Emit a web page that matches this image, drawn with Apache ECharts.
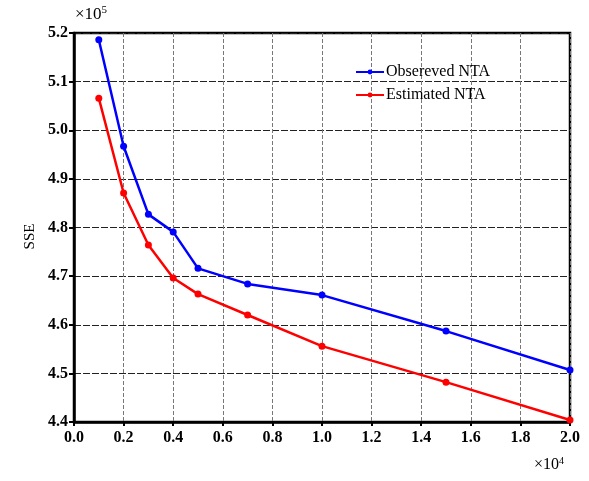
<!DOCTYPE html>
<html><head><meta charset="utf-8">
<script src="https://cdn.jsdelivr.net/npm/echarts@6/dist/echarts.min.js"></script>
<style>html,body{margin:0;padding:0;background:#fff}#c{width:589px;height:481px}</style>
</head><body><div id="c"></div>
<script>
const xValues = [0.1, 0.2, 0.3, 0.4, 0.5, 0.7, 1.0, 1.5, 2.0];
const observedNTA = [5.186, 4.967, 4.827, 4.791, 4.716, 4.684, 4.661, 4.587, 4.507];
const estimatedNTA = [5.066, 4.871, 4.764, 4.696, 4.663, 4.620, 4.556, 4.482, 4.404];
const seriesNames = ['Obsereved NTA', 'Estimated NTA'];

const font = '"Liberation Serif", "Times New Roman", serif';
const chart = echarts.init(document.getElementById('c'));
const pair = (ys) => xValues.map((x, i) => [x, ys[i]]);
chart.setOption({
  animation: false,
  backgroundColor: '#fff',
  grid: {left: 74, right: 19, top: 33, bottom: 59, show: true, borderColor: '#000', borderWidth: 2.5, backgroundColor: 'transparent'},
  legend: {
    left: 350, top: 59, orient: 'vertical', itemGap: 7, itemWidth: 28, itemHeight: 6,
    textStyle: {fontFamily: font, fontSize: 16, color: '#000', padding: [0, 0, 0, -3]},
    data: seriesNames
  },
  xAxis: {
    type: 'value', min: 0, max: 2.0, interval: 0.2,
    axisLine: {lineStyle: {color: '#000', width: 2.5}},
    axisTick: {show: true, length: 4, lineStyle: {color: '#000', width: 2}},
    axisLabel: {fontFamily: font, fontWeight: 'bold', fontSize: 16, color: '#000', margin: 8, formatter: v => v.toFixed(1)},
    splitLine: {show: true, lineStyle: {color: '#777', type: [4, 2], width: 1}}
  },
  yAxis: {
    type: 'value', min: 4.4, max: 5.2, interval: 0.1,
    name: 'SSE', nameLocation: 'middle', nameGap: 33, nameRotate: 90,
    nameTextStyle: {fontFamily: font, fontSize: 15, color: '#000', padding: [0, 18, 0, 0]},
    axisLine: {lineStyle: {color: '#000', width: 2.5}},
    axisTick: {show: true, length: 5, lineStyle: {color: '#000', width: 2}},
    axisLabel: {fontFamily: font, fontWeight: 'bold', fontSize: 16, color: '#000', margin: 6, formatter: v => v.toFixed(1)},
    splitLine: {show: true, lineStyle: {color: '#222', type: [7, 2], width: 1}}
  },
  series: [
    {name: seriesNames[0], type: 'line', data: pair(observedNTA), color: '#0000ff',
     lineStyle: {width: 2.5}, symbol: 'circle', symbolSize: 7, itemStyle: {color: '#0000ff'}},
    {name: seriesNames[1], type: 'line', data: pair(estimatedNTA), color: '#ff0000',
     lineStyle: {width: 2.5}, symbol: 'circle', symbolSize: 7, itemStyle: {color: '#ff0000'}}
  ],
  graphic: [
    {type: 'text', left: 75, top: 5, style: {rich: {a: {fontFamily: font, fontSize: 17, fill: '#000'}, b: {fontFamily: font, fontSize: 11, fill: '#000', padding: [0, 0, 9, 0]}}, text: '{a|×10}{b|5}'}},
    {type: 'text', left: 534, top: 456, style: {rich: {a: {fontFamily: font, fontSize: 16, fill: '#000'}, b: {fontFamily: font, fontSize: 10, fill: '#000', padding: [0, 0, 8, 0]}}, text: '{a|×10}{b|4}'}}
  ]
});
</script></body></html>
